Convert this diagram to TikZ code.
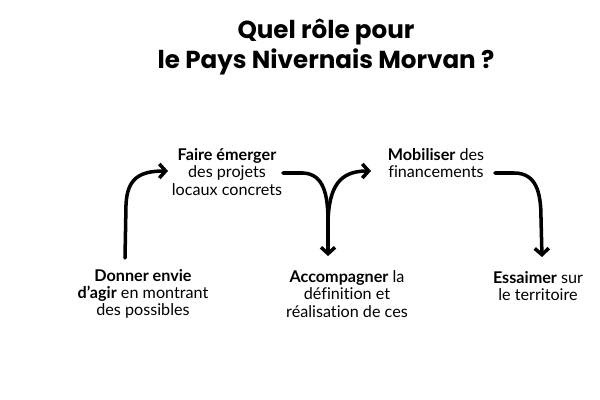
\documentclass[tikz,border=0pt]{standalone}
\usepackage{fontspec}
\setmainfont{Lato}[RawFeature=-liga]
\newfontfamily\titrefont{Poppins}
\usetikzlibrary{arrows.meta}

\begin{document}
\begin{tikzpicture}[x=0.025cm,y=-0.025cm]
        \tikzset{etape/.style={align=center,font=\fontsize{11.5}{12.2}\selectfont},
          fleche/.style={line width=2.5pt,line cap=round,-{Straight Barb[length=4.5pt,width=10pt]}}}
        \useasboundingbox (0,0) rectangle (600,400);
        \node[align=center,font=\titrefont\bfseries\fontsize{17.5}{21}\selectfont] (titre) at (326,47)
          {Quel rôle pour\\le Pays Nivernais Morvan ?};

        \node[etape] (donner) at (143,294) {\textbf{Donner envie}\\\textbf{d'agir} en montrant\\des possibles};
        \node[etape] (faire) at (227,172) {\textbf{Faire émerger}\\des projets\\locaux concrets};
        \node[etape] (accomp) at (347,294) {\textbf{Accompagner} la\\définition et\\réalisation de ces};
        \node[etape] (mobil) at (436,163) {\textbf{Mobiliser} des\\financements};
        \node[etape] (essaim) at (538,286) {\textbf{Essaimer} sur\\le territoire};

        % points de depart et d'arrivee des fleches
        \coordinate (d1) at (125,258);
        \coordinate (f1) at (168,171);
        \coordinate (d2) at (283,173);
        \coordinate (m2) at (328,222);
        \coordinate (f2) at (328,256);
        \coordinate (f3) at (371,171);
        \coordinate (d4) at (495,173);
        \coordinate (f4) at (542,257);

        \draw[fleche] (d1) -- (126,205) .. controls (127,178) and (140,171) .. (f1);
        \draw[fleche] (d2) -- (303,173) .. controls (324,174) and (328,195) .. (m2) -- (f2);
        \draw[fleche] (m2) .. controls (329,186) and (340,171) .. (f3);
        \draw[fleche] (d4) -- (514,173) .. controls (536,173) and (541,192) .. (541,218) -- (f4);
\end{tikzpicture}
\end{document}
